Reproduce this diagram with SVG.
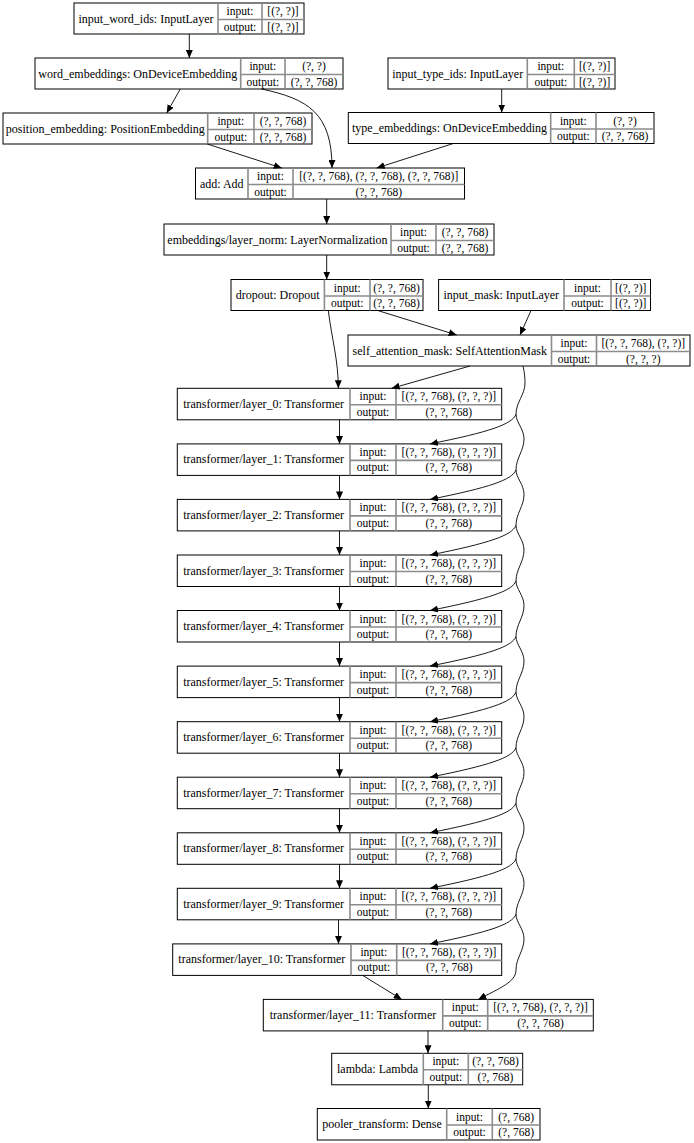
<svg xmlns="http://www.w3.org/2000/svg" width="694" height="1143" viewBox="0 0 694 1143">
<style>
.box{fill:#fff;stroke:#000;stroke-width:1}
.dv{fill:none;stroke:#8c8c8c;stroke-width:1.6}
text{font-family:"Liberation Serif","Times New Roman",serif;font-size:11.5px;fill:#000;text-anchor:middle}
text.n{font-size:12px}
.e{fill:none;stroke:#000;stroke-width:0.9}
</style>
<defs>
<marker id="ah" markerUnits="userSpaceOnUse" markerWidth="9" markerHeight="7" refX="8" refY="3.5" orient="auto">
<path d="M0,0 L8,3.5 L0,7 z" fill="#000"/>
</marker>
</defs>
<rect width="694" height="1143" fill="#fff"/>

<g id="input_word_ids">
<rect class="box" x="74" y="3" width="230" height="31"/>
<path class="dv" d="M218,3V34M262,3V34M218,19.5H304"/>
<text class="n" x="146" y="22.5">input_word_ids: InputLayer</text>
<text x="240" y="15">input:</text><text x="240" y="30.5">output:</text>
<text x="283" y="15">[(?, ?)]</text><text x="283" y="30.5">[(?, ?)]</text>
</g>

<g id="word_embeddings">
<rect class="box" x="35" y="58" width="308" height="31"/>
<path class="dv" d="M240.7,58V89M285,58V89M240.7,74.5H343"/>
<text class="n" x="137.85" y="77.5">word_embeddings: OnDeviceEmbedding</text>
<text x="262.85" y="70">input:</text><text x="262.85" y="85.5">output:</text>
<text x="314" y="70">(?, ?)</text><text x="314" y="85.5">(?, ?, 768)</text>
</g>

<g id="position_embedding">
<rect class="box" x="3" y="113" width="309" height="31"/>
<path class="dv" d="M207.7,113V144M254,113V144M207.7,129.5H312"/>
<text class="n" x="105.35" y="132.5">position_embedding: PositionEmbedding</text>
<text x="230.85" y="125">input:</text><text x="230.85" y="140.5">output:</text>
<text x="283" y="125">(?, ?, 768)</text><text x="283" y="140.5">(?, ?, 768)</text>
</g>

<g id="input_type_ids">
<rect class="box" x="388" y="58" width="227" height="31"/>
<path class="dv" d="M527.3,58V89M574.3,58V89M527.3,74.5H615"/>
<text class="n" x="457.65" y="77.5">input_type_ids: InputLayer</text>
<text x="550.8" y="70">input:</text><text x="550.8" y="85.5">output:</text>
<text x="594.65" y="70">[(?, ?)]</text><text x="594.65" y="85.5">[(?, ?)]</text>
</g>

<g id="type_embeddings">
<rect class="box" x="348.3" y="112.5" width="305.7" height="31"/>
<path class="dv" d="M550.7,112.5V143.5M596,112.5V143.5M550.7,129H654"/>
<text class="n" x="449.5" y="132">type_embeddings: OnDeviceEmbedding</text>
<text x="573.35" y="124.5">input:</text><text x="573.35" y="140">output:</text>
<text x="625" y="124.5">(?, ?)</text><text x="625" y="140">(?, ?, 768)</text>
</g>

<g id="add">
<rect class="box" x="195.5" y="168" width="269" height="31"/>
<path class="dv" d="M248,168V199M293,168V199M248,184.5H464.5"/>
<text class="n" x="221.75" y="187.5">add: Add</text>
<text x="270.5" y="180">input:</text><text x="270.5" y="195.5">output:</text>
<text x="378.75" y="180">[(?, ?, 768), (?, ?, 768), (?, ?, 768)]</text><text x="378.75" y="195.5">(?, ?, 768)</text>
</g>

<g id="layer_norm">
<rect class="box" x="164" y="224" width="330" height="31"/>
<path class="dv" d="M391,224V255M436,224V255M391,240.5H494"/>
<text class="n" x="277.5" y="243.5">embeddings/layer_norm: LayerNormalization</text>
<text x="413.5" y="236">input:</text><text x="413.5" y="251.5">output:</text>
<text x="465" y="236">(?, ?, 768)</text><text x="465" y="251.5">(?, ?, 768)</text>
</g>

<g id="dropout">
<rect class="box" x="231" y="279.5" width="192" height="31"/>
<path class="dv" d="M324.4,279.5V310.5M370,279.5V310.5M324.4,296H423"/>
<text class="n" x="277.7" y="299">dropout: Dropout</text>
<text x="347.2" y="291.5">input:</text><text x="347.2" y="307">output:</text>
<text x="396.5" y="291.5">(?, ?, 768)</text><text x="396.5" y="307">(?, ?, 768)</text>
</g>

<g id="input_mask">
<rect class="box" x="438.6" y="279.5" width="211.9" height="31"/>
<path class="dv" d="M564,279.5V310.5M611,279.5V310.5M564,296H650.5"/>
<text class="n" x="501.3" y="299">input_mask: InputLayer</text>
<text x="587.5" y="291.5">input:</text><text x="587.5" y="307">output:</text>
<text x="630.75" y="291.5">[(?, ?)]</text><text x="630.75" y="307">[(?, ?)]</text>
</g>

<g id="self_attention_mask">
<rect class="box" x="348" y="335" width="342" height="31"/>
<path class="dv" d="M551.5,335V366M596.5,335V366M551.5,351.5H690"/>
<text class="n" x="449.75" y="354.5">self_attention_mask: SelfAttentionMask</text>
<text x="574" y="347">input:</text><text x="574" y="362.5">output:</text>
<text x="643.25" y="347">[(?, ?, 768), (?, ?)]</text><text x="643.25" y="362.5">(?, ?, ?)</text>
</g>

<g id="layer_0" transform="translate(0,388.3)">
<rect class="box" x="177.3" y="0" width="324.4" height="31.5"/>
<path class="dv" d="M350,0V31.5M396,0V31.5M350,16.5H501.7"/>
<text class="n" x="263.65" y="19.5">transformer/layer_0: Transformer</text>
<text x="373" y="12">input:</text><text x="373" y="27.5">output:</text>
<text x="448.85" y="12">[(?, ?, 768), (?, ?, ?)]</text><text x="448.85" y="27.5">(?, ?, 768)</text>
</g>
<g id="layer_1" transform="translate(0,443.9)">
<rect class="box" x="177.3" y="0" width="324.4" height="31.5"/>
<path class="dv" d="M350,0V31.5M396,0V31.5M350,16.5H501.7"/>
<text class="n" x="263.65" y="19.5">transformer/layer_1: Transformer</text>
<text x="373" y="12">input:</text><text x="373" y="27.5">output:</text>
<text x="448.85" y="12">[(?, ?, 768), (?, ?, ?)]</text><text x="448.85" y="27.5">(?, ?, 768)</text>
</g>
<g id="layer_2" transform="translate(0,499.4)">
<rect class="box" x="177.3" y="0" width="324.4" height="31.5"/>
<path class="dv" d="M350,0V31.5M396,0V31.5M350,16.5H501.7"/>
<text class="n" x="263.65" y="19.5">transformer/layer_2: Transformer</text>
<text x="373" y="12">input:</text><text x="373" y="27.5">output:</text>
<text x="448.85" y="12">[(?, ?, 768), (?, ?, ?)]</text><text x="448.85" y="27.5">(?, ?, 768)</text>
</g>
<g id="layer_3" transform="translate(0,555)">
<rect class="box" x="177.3" y="0" width="324.4" height="31.5"/>
<path class="dv" d="M350,0V31.5M396,0V31.5M350,16.5H501.7"/>
<text class="n" x="263.65" y="19.5">transformer/layer_3: Transformer</text>
<text x="373" y="12">input:</text><text x="373" y="27.5">output:</text>
<text x="448.85" y="12">[(?, ?, 768), (?, ?, ?)]</text><text x="448.85" y="27.5">(?, ?, 768)</text>
</g>
<g id="layer_4" transform="translate(0,610.5)">
<rect class="box" x="177.3" y="0" width="324.4" height="31.5"/>
<path class="dv" d="M350,0V31.5M396,0V31.5M350,16.5H501.7"/>
<text class="n" x="263.65" y="19.5">transformer/layer_4: Transformer</text>
<text x="373" y="12">input:</text><text x="373" y="27.5">output:</text>
<text x="448.85" y="12">[(?, ?, 768), (?, ?, ?)]</text><text x="448.85" y="27.5">(?, ?, 768)</text>
</g>
<g id="layer_5" transform="translate(0,666.1)">
<rect class="box" x="177.3" y="0" width="324.4" height="31.5"/>
<path class="dv" d="M350,0V31.5M396,0V31.5M350,16.5H501.7"/>
<text class="n" x="263.65" y="19.5">transformer/layer_5: Transformer</text>
<text x="373" y="12">input:</text><text x="373" y="27.5">output:</text>
<text x="448.85" y="12">[(?, ?, 768), (?, ?, ?)]</text><text x="448.85" y="27.5">(?, ?, 768)</text>
</g>
<g id="layer_6" transform="translate(0,721.7)">
<rect class="box" x="177.3" y="0" width="324.4" height="31.5"/>
<path class="dv" d="M350,0V31.5M396,0V31.5M350,16.5H501.7"/>
<text class="n" x="263.65" y="19.5">transformer/layer_6: Transformer</text>
<text x="373" y="12">input:</text><text x="373" y="27.5">output:</text>
<text x="448.85" y="12">[(?, ?, 768), (?, ?, ?)]</text><text x="448.85" y="27.5">(?, ?, 768)</text>
</g>
<g id="layer_7" transform="translate(0,777.2)">
<rect class="box" x="177.3" y="0" width="324.4" height="31.5"/>
<path class="dv" d="M350,0V31.5M396,0V31.5M350,16.5H501.7"/>
<text class="n" x="263.65" y="19.5">transformer/layer_7: Transformer</text>
<text x="373" y="12">input:</text><text x="373" y="27.5">output:</text>
<text x="448.85" y="12">[(?, ?, 768), (?, ?, ?)]</text><text x="448.85" y="27.5">(?, ?, 768)</text>
</g>
<g id="layer_8" transform="translate(0,832.8)">
<rect class="box" x="177.3" y="0" width="324.4" height="31.5"/>
<path class="dv" d="M350,0V31.5M396,0V31.5M350,16.5H501.7"/>
<text class="n" x="263.65" y="19.5">transformer/layer_8: Transformer</text>
<text x="373" y="12">input:</text><text x="373" y="27.5">output:</text>
<text x="448.85" y="12">[(?, ?, 768), (?, ?, ?)]</text><text x="448.85" y="27.5">(?, ?, 768)</text>
</g>
<g id="layer_9" transform="translate(0,888.3)">
<rect class="box" x="177.3" y="0" width="324.4" height="31.5"/>
<path class="dv" d="M350,0V31.5M396,0V31.5M350,16.5H501.7"/>
<text class="n" x="263.65" y="19.5">transformer/layer_9: Transformer</text>
<text x="373" y="12">input:</text><text x="373" y="27.5">output:</text>
<text x="448.85" y="12">[(?, ?, 768), (?, ?, ?)]</text><text x="448.85" y="27.5">(?, ?, 768)</text>
</g>
<g id="layer_10" transform="translate(0,943.9)">
<rect class="box" x="172.7" y="0" width="329" height="31.5"/>
<path class="dv" d="M351,0V31.5M396.7,0V31.5M351,16.5H501.7"/>
<text class="n" x="261.85" y="19.5">transformer/layer_10: Transformer</text>
<text x="373.85" y="12">input:</text><text x="373.85" y="27.5">output:</text>
<text x="449.2" y="12">[(?, ?, 768), (?, ?, ?)]</text><text x="449.2" y="27.5">(?, ?, 768)</text>
</g>
<g id="layer_11" transform="translate(0,999.4)">
<rect class="box" x="263.3" y="0" width="330" height="31.5"/>
<path class="dv" d="M442.7,0V31.5M487.7,0V31.5M442.7,16.5H593.3"/>
<text class="n" x="353" y="19.5">transformer/layer_11: Transformer</text>
<text x="465.2" y="12">input:</text><text x="465.2" y="27.5">output:</text>
<text x="540.5" y="12">[(?, ?, 768), (?, ?, ?)]</text><text x="540.5" y="27.5">(?, ?, 768)</text>
</g>

<g id="lambda">
<rect class="box" x="331.7" y="1053.3" width="191" height="31.5"/>
<path class="dv" d="M423.3,1053.3V1084.8M468.3,1053.3V1084.8M423.3,1069.8H522.7"/>
<text class="n" x="377.5" y="1072.8">lambda: Lambda</text>
<text x="445.8" y="1065.3">input:</text><text x="445.8" y="1080.8">output:</text>
<text x="495.5" y="1065.3">(?, ?, 768)</text><text x="495.5" y="1080.8">(?, 768)</text>
</g>

<g id="pooler_transform">
<rect class="box" x="317.3" y="1108.5" width="222.7" height="31.5"/>
<path class="dv" d="M446.7,1108.5V1140M492.3,1108.5V1140M446.7,1125H540"/>
<text class="n" x="382" y="1128">pooler_transform: Dense</text>
<text x="469.5" y="1120.5">input:</text><text x="469.5" y="1136">output:</text>
<text x="516.15" y="1120.5">(?, 768)</text><text x="516.15" y="1136">(?, 768)</text>
</g>

<g id="connectors">
<path class="e" marker-end="url(#ah)" d="M189.3,34L189.3,58"/>
<path class="e" marker-end="url(#ah)" d="M180.3,89L166.7,113"/>
<path class="e" marker-end="url(#ah)" d="M261.7,89C308,99 332,113 332,168"/>
<path class="e" marker-end="url(#ah)" d="M207.3,144L281.7,168"/>
<path class="e" marker-end="url(#ah)" d="M501.7,89L501.7,112.5"/>
<path class="e" marker-end="url(#ah)" d="M453.3,143.5L376.7,168"/>
<path class="e" marker-end="url(#ah)" d="M326.7,199L326.7,224"/>
<path class="e" marker-end="url(#ah)" d="M326.7,255L326.7,279.5"/>
<path class="e" marker-end="url(#ah)" d="M328.3,310.5C332,340 338.3,360 338.3,388.3"/>
<path class="e" marker-end="url(#ah)" d="M377.7,310.5L456.7,335"/>
<path class="e" marker-end="url(#ah)" d="M531,310.5L520,335"/>
<path class="e" marker-end="url(#ah)" d="M470,366L391.7,388.3"/>
<path class="e" d="M523,366C524.5,372 525,378 525,383C525,395 516,402 516,414.3C516,422.3 524,428.9 524,438.9C524,450.9 516,457.9 516,469.9C516,477.9 524,484.4 524,494.4C524,506.4 516,513.4 516,525.4C516,533.4 524,540 524,550C524,562 516,569 516,581C516,589 524,595.5 524,605.5C524,617.5 516,624.5 516,636.5C516,644.5 524,651.1 524,661.1C524,673.1 516,680.1 516,692.1C516,700.1 524,706.7 524,716.7C524,728.7 516,735.7 516,747.7C516,755.7 524,762.2 524,772.2C524,784.2 516,791.2 516,803.2C516,811.2 524,817.8 524,827.8C524,839.8 516,846.8 516,858.8C516,866.8 524,873.3 524,883.3C524,895.3 516,902.3 516,914.3C516,922.3 524,928.9 524,938.9C524,950.9 516,957.9 516,969.9"/>
<path class="e" marker-end="url(#ah)" d="M516,414.3C512,424.3 490,431.9 430,443.9"/>
<path class="e" marker-end="url(#ah)" d="M516,469.9C512,479.9 490,487.4 430,499.4"/>
<path class="e" marker-end="url(#ah)" d="M516,525.4C512,535.4 490,543 430,555"/>
<path class="e" marker-end="url(#ah)" d="M516,581C512,591 490,598.5 430,610.5"/>
<path class="e" marker-end="url(#ah)" d="M516,636.5C512,646.5 490,654.1 430,666.1"/>
<path class="e" marker-end="url(#ah)" d="M516,692.1C512,702.1 490,709.7 430,721.7"/>
<path class="e" marker-end="url(#ah)" d="M516,747.7C512,757.7 490,765.2 430,777.2"/>
<path class="e" marker-end="url(#ah)" d="M516,803.2C512,813.2 490,820.8 430,832.8"/>
<path class="e" marker-end="url(#ah)" d="M516,858.8C512,868.8 490,876.3 430,888.3"/>
<path class="e" marker-end="url(#ah)" d="M516,914.3C512,924.3 490,931.9 430,943.9"/>
<path class="e" marker-end="url(#ah)" d="M516,969.9C516,982 500,988 478.3,999.4"/>
<path class="e" marker-end="url(#ah)" d="M339.5,419.8L339.5,443.9"/>
<path class="e" marker-end="url(#ah)" d="M339.5,475.4L339.5,499.4"/>
<path class="e" marker-end="url(#ah)" d="M339.5,530.9L339.5,555"/>
<path class="e" marker-end="url(#ah)" d="M339.5,586.5L339.5,610.5"/>
<path class="e" marker-end="url(#ah)" d="M339.5,642L339.5,666.1"/>
<path class="e" marker-end="url(#ah)" d="M339.5,697.6L339.5,721.7"/>
<path class="e" marker-end="url(#ah)" d="M339.5,753.2L339.5,777.2"/>
<path class="e" marker-end="url(#ah)" d="M339.5,808.7L339.5,832.8"/>
<path class="e" marker-end="url(#ah)" d="M339.5,864.3L339.5,888.3"/>
<path class="e" marker-end="url(#ah)" d="M338.5,919.8L338.5,943.9"/>
<path class="e" marker-end="url(#ah)" d="M362.7,975.4L401.7,999.4"/>
<path class="e" marker-end="url(#ah)" d="M428,1030.9L428,1053.3"/>
<path class="e" marker-end="url(#ah)" d="M428.3,1084.8L428.3,1108.5"/>
</g>
</svg>
